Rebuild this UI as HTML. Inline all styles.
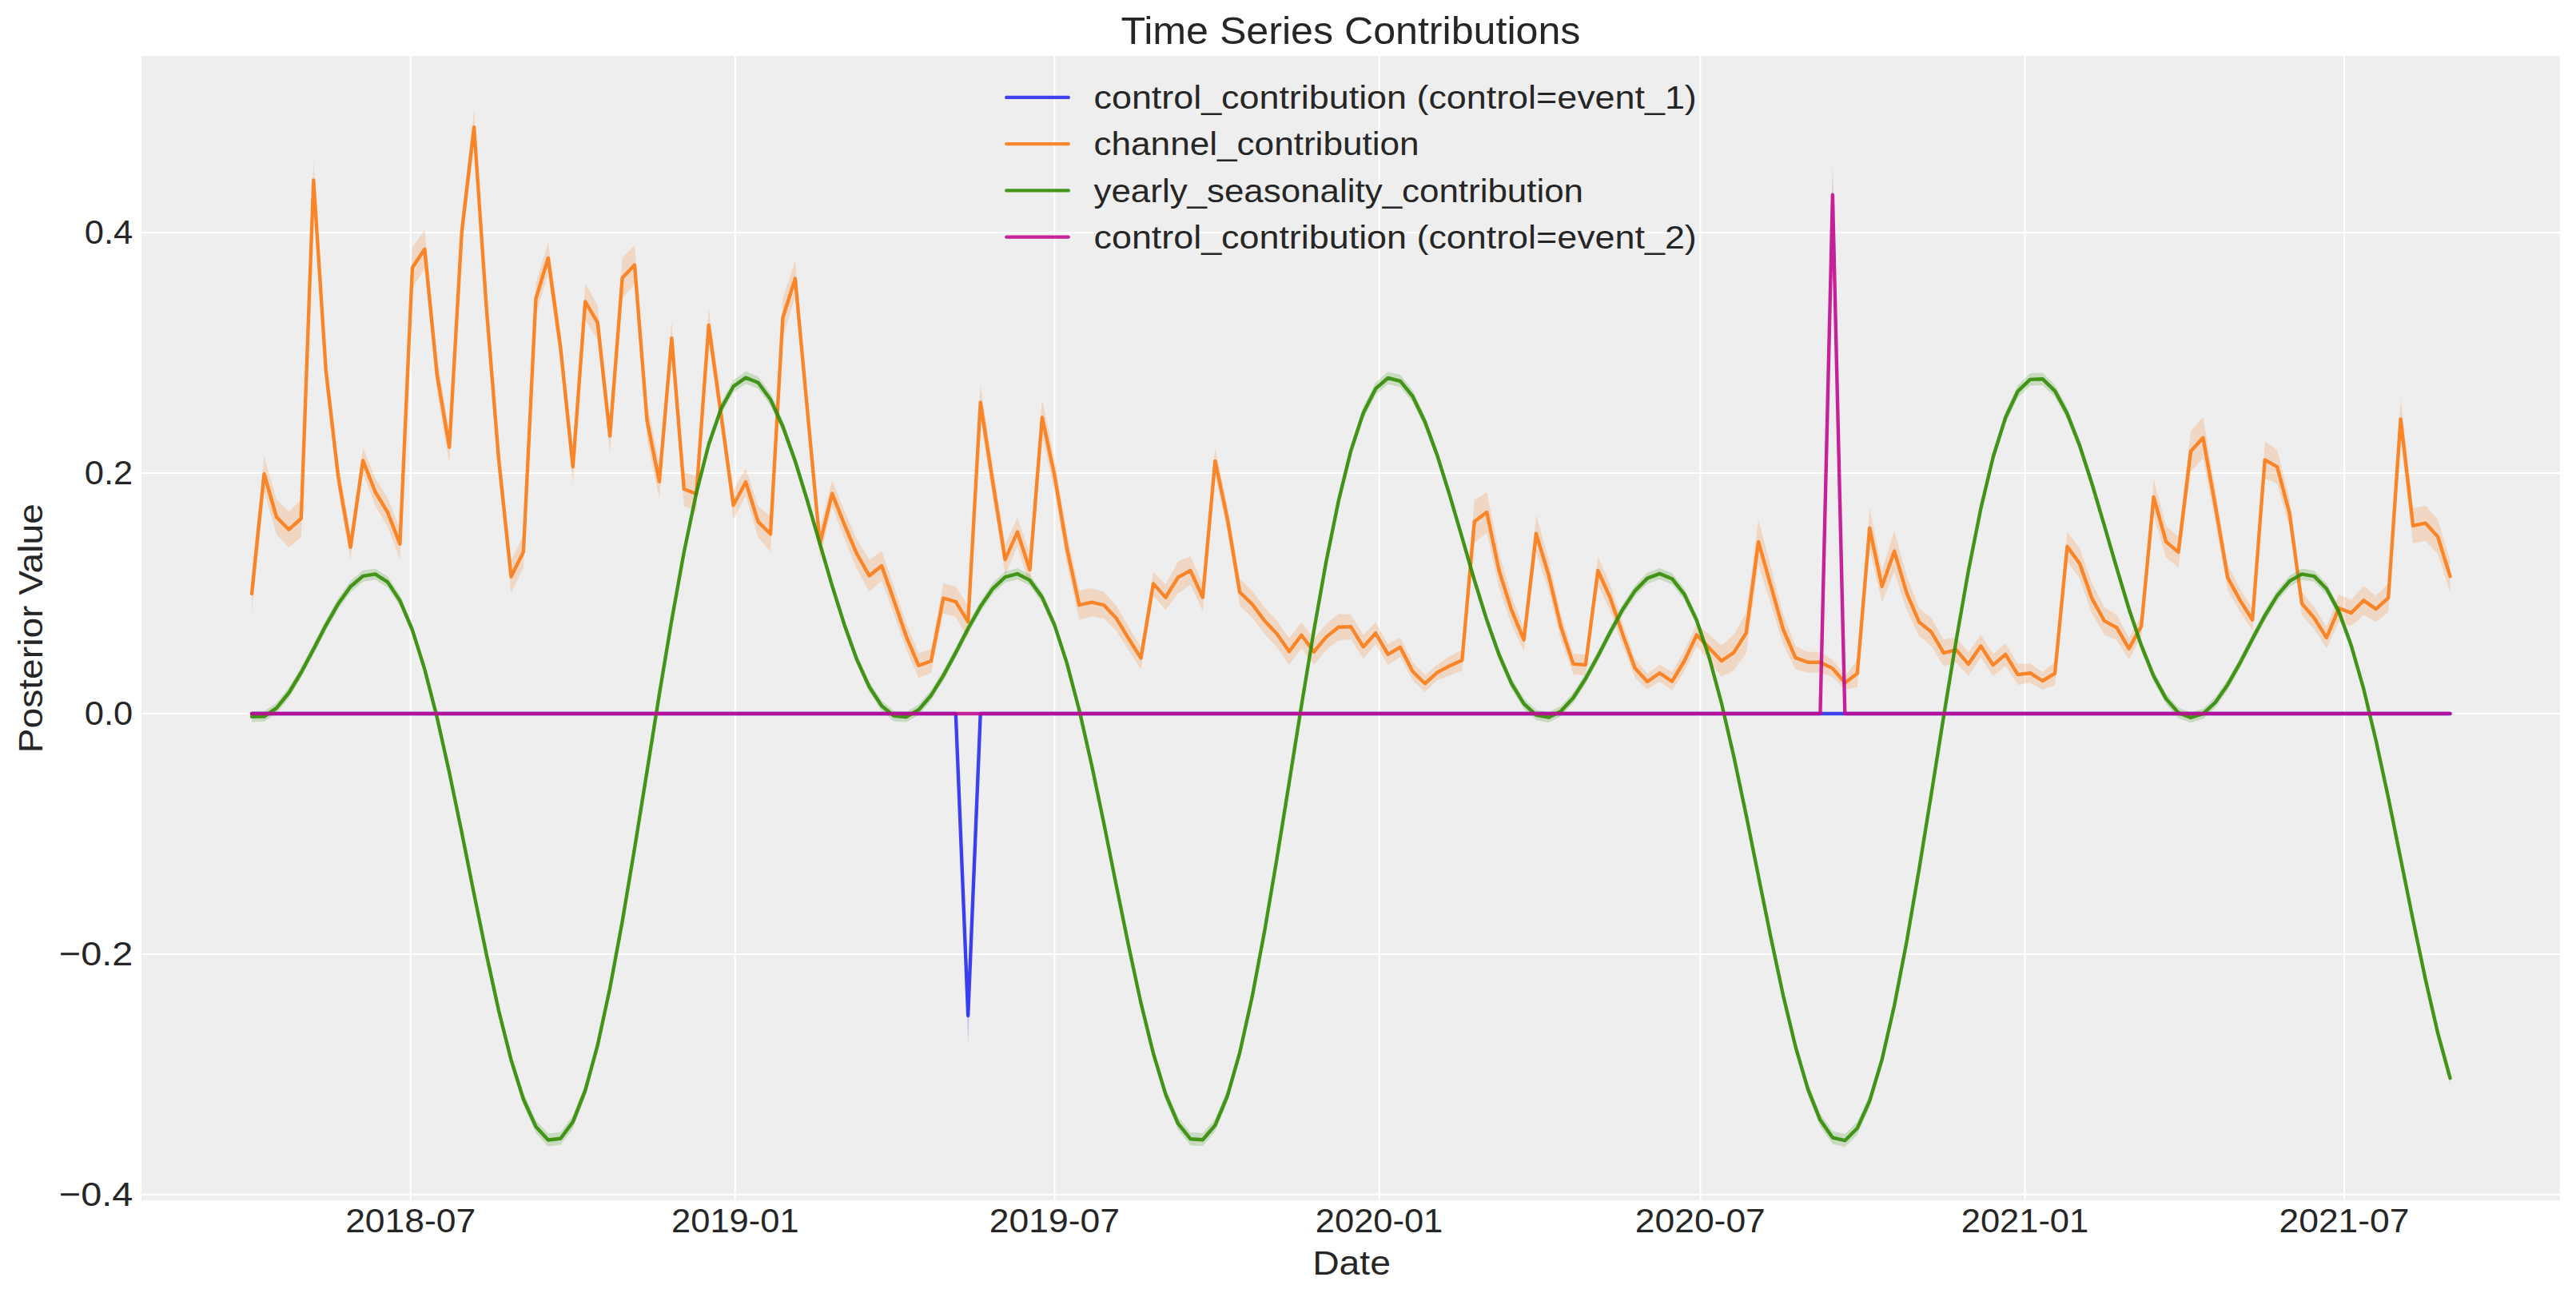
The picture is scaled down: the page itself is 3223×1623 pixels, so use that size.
<!DOCTYPE html>
<html><head><meta charset="utf-8"><title>Time Series Contributions</title>
<style>
html,body{margin:0;padding:0;background:#fff;}
svg{display:block;}
text{font-family:"Liberation Sans",sans-serif;fill:#262626;}
</style></head><body>
<svg width="3223" height="1623" viewBox="0 0 3223 1623">
<rect x="0" y="0" width="3223" height="1623" fill="#ffffff"/>
<defs><clipPath id="ax"><rect x="177.0" y="70.0" width="3026.0" height="1432.0"/></clipPath></defs>
<rect x="177.0" y="70.0" width="3026.0" height="1432.0" fill="#eeeeee"/>
<g stroke="#ffffff" stroke-width="2.1" fill="none">
<line x1="513.67" y1="70.0" x2="513.67" y2="1502.0"/>
<line x1="919.84" y1="70.0" x2="919.84" y2="1502.0"/>
<line x1="1319.38" y1="70.0" x2="1319.38" y2="1502.0"/>
<line x1="1725.55" y1="70.0" x2="1725.55" y2="1502.0"/>
<line x1="2127.30" y1="70.0" x2="2127.30" y2="1502.0"/>
<line x1="2533.47" y1="70.0" x2="2533.47" y2="1502.0"/>
<line x1="2933.01" y1="70.0" x2="2933.01" y2="1502.0"/>
<line x1="177.0" y1="291.10" x2="3203.0" y2="291.10"/>
<line x1="177.0" y1="592.05" x2="3203.0" y2="592.05"/>
<line x1="177.0" y1="893.00" x2="3203.0" y2="893.00"/>
<line x1="177.0" y1="1193.95" x2="3203.0" y2="1193.95"/>
<line x1="177.0" y1="1494.90" x2="3203.0" y2="1494.90"/>
</g>
<g clip-path="url(#ax)" stroke-linejoin="round" stroke-linecap="round">
<polygon points="315.0,893.0 330.5,893.0 345.9,893.0 361.4,893.0 376.8,893.0 392.3,893.0 407.7,893.0 423.2,893.0 438.6,893.0 454.1,893.0 469.5,893.0 485.0,893.0 500.4,893.0 515.9,893.0 531.3,893.0 546.8,893.0 562.2,893.0 577.7,893.0 593.1,893.0 608.6,893.0 624.0,893.0 639.5,893.0 654.9,893.0 670.4,893.0 685.8,893.0 701.3,893.0 716.8,893.0 732.2,893.0 747.7,893.0 763.1,893.0 778.6,893.0 794.0,893.0 809.5,893.0 824.9,893.0 840.4,893.0 855.8,893.0 871.3,893.0 886.7,893.0 902.2,893.0 917.6,893.0 933.1,893.0 948.5,893.0 964.0,893.0 979.4,893.0 994.9,893.0 1010.3,893.0 1025.8,893.0 1041.2,893.0 1056.7,893.0 1072.1,893.0 1087.6,893.0 1103.1,893.0 1118.5,893.0 1134.0,893.0 1149.4,893.0 1164.9,893.0 1180.3,893.0 1195.8,893.0 1211.2,1240.0 1226.7,893.0 1242.1,893.0 1257.6,893.0 1273.0,893.0 1288.5,893.0 1303.9,893.0 1319.4,893.0 1334.8,893.0 1350.3,893.0 1365.7,893.0 1381.2,893.0 1396.6,893.0 1412.1,893.0 1427.5,893.0 1443.0,893.0 1458.4,893.0 1473.9,893.0 1489.4,893.0 1504.8,893.0 1520.3,893.0 1535.7,893.0 1551.2,893.0 1566.6,893.0 1582.1,893.0 1597.5,893.0 1613.0,893.0 1628.4,893.0 1643.9,893.0 1659.3,893.0 1674.8,893.0 1690.2,893.0 1705.7,893.0 1721.1,893.0 1736.6,893.0 1752.0,893.0 1767.5,893.0 1782.9,893.0 1798.4,893.0 1813.8,893.0 1829.3,893.0 1844.7,893.0 1860.2,893.0 1875.7,893.0 1891.1,893.0 1906.6,893.0 1922.0,893.0 1937.5,893.0 1952.9,893.0 1968.4,893.0 1983.8,893.0 1999.3,893.0 2014.7,893.0 2030.2,893.0 2045.6,893.0 2061.1,893.0 2076.5,893.0 2092.0,893.0 2107.4,893.0 2122.9,893.0 2138.3,893.0 2153.8,893.0 2169.2,893.0 2184.7,893.0 2200.1,893.0 2215.6,893.0 2231.0,893.0 2246.5,893.0 2262.0,893.0 2277.4,893.0 2292.9,893.0 2308.3,893.0 2323.8,893.0 2339.2,893.0 2354.7,893.0 2370.1,893.0 2385.6,893.0 2401.0,893.0 2416.5,893.0 2431.9,893.0 2447.4,893.0 2462.8,893.0 2478.3,893.0 2493.7,893.0 2509.2,893.0 2524.6,893.0 2540.1,893.0 2555.5,893.0 2571.0,893.0 2586.4,893.0 2601.9,893.0 2617.3,893.0 2632.8,893.0 2648.3,893.0 2663.7,893.0 2679.2,893.0 2694.6,893.0 2710.1,893.0 2725.5,893.0 2741.0,893.0 2756.4,893.0 2771.9,893.0 2787.3,893.0 2802.8,893.0 2818.2,893.0 2833.7,893.0 2849.1,893.0 2864.6,893.0 2880.0,893.0 2895.5,893.0 2910.9,893.0 2926.4,893.0 2941.8,893.0 2957.3,893.0 2972.7,893.0 2988.2,893.0 3003.6,893.0 3019.1,893.0 3034.6,893.0 3050.0,893.0 3065.5,893.0 3065.5,893.0 3050.0,893.0 3034.6,893.0 3019.1,893.0 3003.6,893.0 2988.2,893.0 2972.7,893.0 2957.3,893.0 2941.8,893.0 2926.4,893.0 2910.9,893.0 2895.5,893.0 2880.0,893.0 2864.6,893.0 2849.1,893.0 2833.7,893.0 2818.2,893.0 2802.8,893.0 2787.3,893.0 2771.9,893.0 2756.4,893.0 2741.0,893.0 2725.5,893.0 2710.1,893.0 2694.6,893.0 2679.2,893.0 2663.7,893.0 2648.3,893.0 2632.8,893.0 2617.3,893.0 2601.9,893.0 2586.4,893.0 2571.0,893.0 2555.5,893.0 2540.1,893.0 2524.6,893.0 2509.2,893.0 2493.7,893.0 2478.3,893.0 2462.8,893.0 2447.4,893.0 2431.9,893.0 2416.5,893.0 2401.0,893.0 2385.6,893.0 2370.1,893.0 2354.7,893.0 2339.2,893.0 2323.8,893.0 2308.3,893.0 2292.9,893.0 2277.4,893.0 2262.0,893.0 2246.5,893.0 2231.0,893.0 2215.6,893.0 2200.1,893.0 2184.7,893.0 2169.2,893.0 2153.8,893.0 2138.3,893.0 2122.9,893.0 2107.4,893.0 2092.0,893.0 2076.5,893.0 2061.1,893.0 2045.6,893.0 2030.2,893.0 2014.7,893.0 1999.3,893.0 1983.8,893.0 1968.4,893.0 1952.9,893.0 1937.5,893.0 1922.0,893.0 1906.6,893.0 1891.1,893.0 1875.7,893.0 1860.2,893.0 1844.7,893.0 1829.3,893.0 1813.8,893.0 1798.4,893.0 1782.9,893.0 1767.5,893.0 1752.0,893.0 1736.6,893.0 1721.1,893.0 1705.7,893.0 1690.2,893.0 1674.8,893.0 1659.3,893.0 1643.9,893.0 1628.4,893.0 1613.0,893.0 1597.5,893.0 1582.1,893.0 1566.6,893.0 1551.2,893.0 1535.7,893.0 1520.3,893.0 1504.8,893.0 1489.4,893.0 1473.9,893.0 1458.4,893.0 1443.0,893.0 1427.5,893.0 1412.1,893.0 1396.6,893.0 1381.2,893.0 1365.7,893.0 1350.3,893.0 1334.8,893.0 1319.4,893.0 1303.9,893.0 1288.5,893.0 1273.0,893.0 1257.6,893.0 1242.1,893.0 1226.7,893.0 1211.2,1307.0 1195.8,893.0 1180.3,893.0 1164.9,893.0 1149.4,893.0 1134.0,893.0 1118.5,893.0 1103.1,893.0 1087.6,893.0 1072.1,893.0 1056.7,893.0 1041.2,893.0 1025.8,893.0 1010.3,893.0 994.9,893.0 979.4,893.0 964.0,893.0 948.5,893.0 933.1,893.0 917.6,893.0 902.2,893.0 886.7,893.0 871.3,893.0 855.8,893.0 840.4,893.0 824.9,893.0 809.5,893.0 794.0,893.0 778.6,893.0 763.1,893.0 747.7,893.0 732.2,893.0 716.8,893.0 701.3,893.0 685.8,893.0 670.4,893.0 654.9,893.0 639.5,893.0 624.0,893.0 608.6,893.0 593.1,893.0 577.7,893.0 562.2,893.0 546.8,893.0 531.3,893.0 515.9,893.0 500.4,893.0 485.0,893.0 469.5,893.0 454.1,893.0 438.6,893.0 423.2,893.0 407.7,893.0 392.3,893.0 376.8,893.0 361.4,893.0 345.9,893.0 330.5,893.0 315.0,893.0" fill="#2a2eec" fill-opacity="0.2" stroke="none"/>
<polyline points="315.0,893.0 330.5,893.0 345.9,893.0 361.4,893.0 376.8,893.0 392.3,893.0 407.7,893.0 423.2,893.0 438.6,893.0 454.1,893.0 469.5,893.0 485.0,893.0 500.4,893.0 515.9,893.0 531.3,893.0 546.8,893.0 562.2,893.0 577.7,893.0 593.1,893.0 608.6,893.0 624.0,893.0 639.5,893.0 654.9,893.0 670.4,893.0 685.8,893.0 701.3,893.0 716.8,893.0 732.2,893.0 747.7,893.0 763.1,893.0 778.6,893.0 794.0,893.0 809.5,893.0 824.9,893.0 840.4,893.0 855.8,893.0 871.3,893.0 886.7,893.0 902.2,893.0 917.6,893.0 933.1,893.0 948.5,893.0 964.0,893.0 979.4,893.0 994.9,893.0 1010.3,893.0 1025.8,893.0 1041.2,893.0 1056.7,893.0 1072.1,893.0 1087.6,893.0 1103.1,893.0 1118.5,893.0 1134.0,893.0 1149.4,893.0 1164.9,893.0 1180.3,893.0 1195.8,893.0 1211.2,1271.0 1226.7,893.0 1242.1,893.0 1257.6,893.0 1273.0,893.0 1288.5,893.0 1303.9,893.0 1319.4,893.0 1334.8,893.0 1350.3,893.0 1365.7,893.0 1381.2,893.0 1396.6,893.0 1412.1,893.0 1427.5,893.0 1443.0,893.0 1458.4,893.0 1473.9,893.0 1489.4,893.0 1504.8,893.0 1520.3,893.0 1535.7,893.0 1551.2,893.0 1566.6,893.0 1582.1,893.0 1597.5,893.0 1613.0,893.0 1628.4,893.0 1643.9,893.0 1659.3,893.0 1674.8,893.0 1690.2,893.0 1705.7,893.0 1721.1,893.0 1736.6,893.0 1752.0,893.0 1767.5,893.0 1782.9,893.0 1798.4,893.0 1813.8,893.0 1829.3,893.0 1844.7,893.0 1860.2,893.0 1875.7,893.0 1891.1,893.0 1906.6,893.0 1922.0,893.0 1937.5,893.0 1952.9,893.0 1968.4,893.0 1983.8,893.0 1999.3,893.0 2014.7,893.0 2030.2,893.0 2045.6,893.0 2061.1,893.0 2076.5,893.0 2092.0,893.0 2107.4,893.0 2122.9,893.0 2138.3,893.0 2153.8,893.0 2169.2,893.0 2184.7,893.0 2200.1,893.0 2215.6,893.0 2231.0,893.0 2246.5,893.0 2262.0,893.0 2277.4,893.0 2292.9,893.0 2308.3,893.0 2323.8,893.0 2339.2,893.0 2354.7,893.0 2370.1,893.0 2385.6,893.0 2401.0,893.0 2416.5,893.0 2431.9,893.0 2447.4,893.0 2462.8,893.0 2478.3,893.0 2493.7,893.0 2509.2,893.0 2524.6,893.0 2540.1,893.0 2555.5,893.0 2571.0,893.0 2586.4,893.0 2601.9,893.0 2617.3,893.0 2632.8,893.0 2648.3,893.0 2663.7,893.0 2679.2,893.0 2694.6,893.0 2710.1,893.0 2725.5,893.0 2741.0,893.0 2756.4,893.0 2771.9,893.0 2787.3,893.0 2802.8,893.0 2818.2,893.0 2833.7,893.0 2849.1,893.0 2864.6,893.0 2880.0,893.0 2895.5,893.0 2910.9,893.0 2926.4,893.0 2941.8,893.0 2957.3,893.0 2972.7,893.0 2988.2,893.0 3003.6,893.0 3019.1,893.0 3034.6,893.0 3050.0,893.0 3065.5,893.0" fill="none" stroke="#2a2eec" stroke-opacity="0.9" stroke-width="4.4"/>
<polygon points="315.0,718.9 330.5,571.2 345.9,624.8 361.4,640.1 376.8,625.2 392.3,201.0 407.7,441.2 423.2,578.0 438.6,668.6 454.1,560.2 469.5,598.3 485.0,622.9 500.4,661.4 515.9,309.4 531.3,287.2 546.8,446.6 562.2,539.8 577.7,269.8 593.1,137.3 608.6,363.4 624.0,553.9 639.5,700.8 654.9,670.2 670.4,354.2 685.8,303.5 701.3,414.7 716.8,563.0 732.2,354.8 747.7,381.9 763.1,524.6 778.6,322.0 794.0,307.5 809.5,502.8 824.9,580.6 840.4,402.5 855.8,590.6 871.3,596.0 886.7,386.2 902.2,499.5 917.6,614.0 933.1,586.1 948.5,633.4 964.0,646.3 979.4,373.0 994.9,326.2 1010.3,494.6 1025.8,662.0 1041.2,601.3 1056.7,639.5 1072.1,674.4 1087.6,700.5 1103.1,689.4 1118.5,733.8 1134.0,780.3 1149.4,817.3 1164.9,812.3 1180.3,729.5 1195.8,733.9 1211.2,757.7 1226.7,481.5 1242.1,582.3 1257.6,680.9 1273.0,647.7 1288.5,693.0 1303.9,500.2 1319.4,574.1 1334.8,666.0 1350.3,738.6 1365.7,736.0 1381.2,740.4 1396.6,757.7 1412.1,784.2 1427.5,809.6 1443.0,715.4 1458.4,731.5 1473.9,702.5 1489.4,696.0 1504.8,730.5 1520.3,560.0 1535.7,632.3 1551.2,724.3 1566.6,739.1 1582.1,760.0 1597.5,776.4 1613.0,798.6 1628.4,778.5 1643.9,799.3 1659.3,780.7 1674.8,768.3 1690.2,768.7 1705.7,794.6 1721.1,778.5 1736.6,805.7 1752.0,797.7 1767.5,828.8 1782.9,844.8 1798.4,831.4 1813.8,821.2 1829.3,813.2 1844.7,626.0 1860.2,615.4 1875.7,692.7 1891.1,745.4 1906.6,786.6 1922.0,644.6 1937.5,699.3 1952.9,767.9 1968.4,817.9 1983.8,819.0 1999.3,695.8 2014.7,732.1 2030.2,779.5 2045.6,824.0 2061.1,843.0 2076.5,831.8 2092.0,841.1 2107.4,814.3 2122.9,780.5 2138.3,794.0 2153.8,807.5 2169.2,794.2 2184.7,767.0 2200.1,650.0 2215.6,709.3 2231.0,768.5 2246.5,808.6 2262.0,815.7 2277.4,815.7 2292.9,825.6 2308.3,845.8 2323.8,825.4 2339.2,635.0 2354.7,714.1 2370.1,664.0 2385.6,720.5 2401.0,760.7 2416.5,773.5 2431.9,800.5 2447.4,797.4 2462.8,816.2 2478.3,794.5 2493.7,818.2 2509.2,804.9 2524.6,831.1 2540.1,830.2 2555.5,841.0 2571.0,827.9 2586.4,665.2 2601.9,686.0 2617.3,729.6 2632.8,759.4 2648.3,769.8 2663.7,798.0 2679.2,769.9 2694.6,599.7 2710.1,658.1 2725.5,671.5 2741.0,539.5 2756.4,522.0 2771.9,613.2 2787.3,707.2 2802.8,736.7 2818.2,762.1 2833.7,552.1 2849.1,562.8 2864.6,624.5 2880.0,740.8 2895.5,759.4 2910.9,784.4 2926.4,743.7 2941.8,750.5 2957.3,733.0 2972.7,745.6 2988.2,730.1 3003.6,498.7 3019.1,635.9 3034.6,632.8 3050.0,650.1 3065.5,700.9 3065.5,741.5 3050.0,692.9 3034.6,676.4 3019.1,679.9 3003.6,550.3 2988.2,766.1 2972.7,778.6 2957.3,769.8 2941.8,783.5 2926.4,778.5 2910.9,811.6 2895.5,787.4 2880.0,769.8 2864.6,660.3 2849.1,605.4 2833.7,598.7 2818.2,789.3 2802.8,766.1 2787.3,738.8 2771.9,654.8 2756.4,573.6 2741.0,589.9 2725.5,710.3 2710.1,697.7 2694.6,644.3 2679.2,797.1 2663.7,825.2 2648.3,801.0 2632.8,794.2 2617.3,768.0 2601.9,724.0 2586.4,702.6 2571.0,857.6 2555.5,863.0 2540.1,854.2 2524.6,857.1 2509.2,832.9 2493.7,846.2 2478.3,822.5 2462.8,846.0 2447.4,828.9 2431.9,833.7 2416.5,808.5 2401.0,795.7 2385.6,763.7 2370.1,715.4 2354.7,753.7 2339.2,687.0 2323.8,860.0 2308.3,863.0 2292.9,847.2 2277.4,841.7 2262.0,841.7 2246.5,837.6 2231.0,806.5 2215.6,756.3 2200.1,706.0 2184.7,817.4 2169.2,839.0 2153.8,846.7 2138.3,827.6 2122.9,808.5 2107.4,839.9 2092.0,864.3 2076.5,852.6 2061.1,863.0 2045.6,848.0 2030.2,807.7 2014.7,764.4 1999.3,732.2 1983.8,845.0 1968.4,843.9 1952.9,800.7 1937.5,738.9 1922.0,691.0 1906.6,814.6 1891.1,781.2 1875.7,736.1 1860.2,666.6 1844.7,679.4 1829.3,839.2 1813.8,845.2 1798.4,851.4 1782.9,865.8 1767.5,851.6 1752.0,822.1 1736.6,831.9 1721.1,806.3 1705.7,824.2 1690.2,799.9 1674.8,801.3 1659.3,813.5 1643.9,832.1 1628.4,811.1 1613.0,832.0 1597.5,809.8 1582.1,793.6 1566.6,772.7 1551.2,758.1 1535.7,666.1 1520.3,594.0 1504.8,764.5 1489.4,732.0 1473.9,742.5 1458.4,763.5 1443.0,745.4 1427.5,837.6 1412.1,814.0 1396.6,789.3 1381.2,774.0 1365.7,771.4 1350.3,775.8 1334.8,705.4 1319.4,615.9 1303.9,544.2 1288.5,733.0 1273.0,683.7 1257.6,719.5 1242.1,623.7 1226.7,525.5 1211.2,798.7 1195.8,771.9 1180.3,767.5 1164.9,842.3 1149.4,848.3 1134.0,813.3 1118.5,769.0 1103.1,726.6 1087.6,740.5 1072.1,712.0 1056.7,674.5 1041.2,633.9 1025.8,698.8 1010.3,535.4 994.9,371.1 979.4,422.0 964.0,690.3 948.5,672.4 933.1,620.1 917.6,650.6 902.2,538.5 886.7,427.8 871.3,640.0 855.8,633.4 840.4,444.1 824.9,624.6 809.5,548.8 794.0,355.5 778.6,373.6 763.1,566.6 747.7,425.5 732.2,400.0 716.8,605.0 701.3,455.1 685.8,342.3 670.4,393.8 654.9,710.8 639.5,742.2 624.0,596.1 608.6,406.6 593.1,181.3 577.7,311.6 562.2,579.4 546.8,490.8 531.3,336.2 515.9,360.6 500.4,700.0 485.0,659.3 469.5,632.7 454.1,592.4 438.6,700.6 423.2,615.6 407.7,484.6 392.3,250.0 376.8,672.3 361.4,685.3 345.9,669.0 330.5,614.6 315.0,766.5" fill="#fa7c17" fill-opacity="0.2" stroke="none"/>
<polyline points="315.0,742.7 330.5,592.9 345.9,646.9 361.4,662.7 376.8,648.8 392.3,225.5 407.7,462.9 423.2,596.8 438.6,684.6 454.1,576.3 469.5,615.5 485.0,641.1 500.4,680.7 515.9,335.0 531.3,311.7 546.8,468.7 562.2,559.6 577.7,290.7 593.1,159.3 608.6,385.0 624.0,575.0 639.5,721.5 654.9,690.5 670.4,374.0 685.8,322.9 701.3,434.9 716.8,584.0 732.2,377.4 747.7,403.7 763.1,545.6 778.6,347.8 794.0,331.5 809.5,525.8 824.9,602.6 840.4,423.3 855.8,612.0 871.3,618.0 886.7,407.0 902.2,519.0 917.6,632.3 933.1,603.1 948.5,652.9 964.0,668.3 979.4,397.5 994.9,348.6 1010.3,515.0 1025.8,680.4 1041.2,617.6 1056.7,657.0 1072.1,693.2 1087.6,720.5 1103.1,708.0 1118.5,751.4 1134.0,796.8 1149.4,832.8 1164.9,827.3 1180.3,748.5 1195.8,752.9 1211.2,778.2 1226.7,503.5 1242.1,603.0 1257.6,700.2 1273.0,665.7 1288.5,713.0 1303.9,522.2 1319.4,595.0 1334.8,685.7 1350.3,757.2 1365.7,753.7 1381.2,757.2 1396.6,773.5 1412.1,799.1 1427.5,823.6 1443.0,730.4 1458.4,747.5 1473.9,722.5 1489.4,714.0 1504.8,747.5 1520.3,577.0 1535.7,649.2 1551.2,741.2 1566.6,755.9 1582.1,776.8 1597.5,793.1 1613.0,815.3 1628.4,794.8 1643.9,815.7 1659.3,797.1 1674.8,784.8 1690.2,784.3 1705.7,809.4 1721.1,792.4 1736.6,818.8 1752.0,809.9 1767.5,840.2 1782.9,855.3 1798.4,841.4 1813.8,833.2 1829.3,826.2 1844.7,652.7 1860.2,641.0 1875.7,714.4 1891.1,763.3 1906.6,800.6 1922.0,667.8 1937.5,719.1 1952.9,784.3 1968.4,830.9 1983.8,832.0 1999.3,714.0 2014.7,748.2 2030.2,793.6 2045.6,836.0 2061.1,853.0 2076.5,842.2 2092.0,852.7 2107.4,827.1 2122.9,794.5 2138.3,810.8 2153.8,827.1 2169.2,816.6 2184.7,792.2 2200.1,678.0 2215.6,732.8 2231.0,787.5 2246.5,823.1 2262.0,828.7 2277.4,828.7 2292.9,836.4 2308.3,854.4 2323.8,842.7 2339.2,661.0 2354.7,733.9 2370.1,689.7 2385.6,742.1 2401.0,778.2 2416.5,791.0 2431.9,817.1 2447.4,813.1 2462.8,831.1 2478.3,808.5 2493.7,832.2 2509.2,818.9 2524.6,844.1 2540.1,842.2 2555.5,852.0 2571.0,842.7 2586.4,683.9 2601.9,705.0 2617.3,748.8 2632.8,776.8 2648.3,785.4 2663.7,811.6 2679.2,783.5 2694.6,622.0 2710.1,677.9 2725.5,690.9 2741.0,564.7 2756.4,547.8 2771.9,634.0 2787.3,723.0 2802.8,751.4 2818.2,775.7 2833.7,575.4 2849.1,584.1 2864.6,642.4 2880.0,755.3 2895.5,773.4 2910.9,798.0 2926.4,761.1 2941.8,767.0 2957.3,751.4 2972.7,762.1 2988.2,748.1 3003.6,524.5 3019.1,657.9 3034.6,654.6 3050.0,671.5 3065.5,721.2" fill="none" stroke="#fa7c17" stroke-opacity="0.9" stroke-width="4.4"/>
<polygon points="315.0,890.2 330.5,890.0 345.9,879.6 361.4,860.4 376.8,834.8 392.3,805.6 407.7,775.8 423.2,748.6 438.6,727.0 454.1,713.8 469.5,711.4 485.0,721.4 500.4,744.6 515.9,781.4 531.3,830.7 546.8,891.2 562.2,960.0 577.7,1034.5 593.1,1111.4 608.6,1186.9 624.0,1257.1 639.5,1318.5 654.9,1367.6 670.4,1401.6 685.8,1418.4 701.3,1416.7 716.8,1395.9 732.2,1356.6 747.7,1300.3 763.1,1229.1 778.6,1146.0 794.0,1054.5 809.5,958.6 824.9,862.3 840.4,769.2 855.8,683.8 871.3,609.4 886.7,548.7 902.2,503.8 917.6,475.8 933.1,464.8 948.5,471.0 964.0,492.1 979.4,525.9 994.9,569.5 1010.3,619.8 1025.8,673.1 1041.2,726.2 1056.7,775.7 1072.1,818.7 1087.6,852.9 1103.1,876.8 1118.5,889.4 1134.0,890.7 1149.4,881.6 1164.9,863.6 1180.3,838.8 1195.8,809.9 1211.2,780.0 1226.7,752.2 1242.1,729.6 1257.6,715.1 1273.0,711.0 1288.5,719.1 1303.9,740.5 1319.4,775.3 1334.8,823.0 1350.3,882.0 1365.7,949.7 1381.2,1023.7 1396.6,1100.4 1412.1,1176.3 1427.5,1247.6 1443.0,1310.4 1458.4,1361.4 1473.9,1397.8 1489.4,1417.1 1504.8,1418.1 1520.3,1400.0 1535.7,1363.3 1551.2,1309.3 1566.6,1240.0 1582.1,1158.4 1597.5,1067.9 1613.0,972.4 1628.4,875.9 1643.9,782.1 1659.3,695.4 1674.8,619.2 1690.2,556.5 1705.7,509.2 1721.1,478.7 1736.6,465.2 1752.0,469.1 1767.5,488.2 1782.9,520.4 1798.4,562.8 1813.8,612.3 1829.3,665.4 1844.7,718.8 1860.2,768.9 1875.7,813.0 1891.1,848.6 1906.6,874.0 1922.0,888.3 1937.5,891.2 1952.9,883.5 1968.4,866.6 1983.8,842.6 1999.3,814.2 2014.7,784.2 2030.2,755.9 2045.6,732.4 2061.1,716.6 2076.5,710.9 2092.0,717.2 2107.4,736.6 2122.9,769.5 2138.3,815.4 2153.8,872.9 2169.2,939.6 2184.7,1012.8 2200.1,1089.4 2215.6,1165.7 2231.0,1237.8 2246.5,1302.1 2262.0,1355.0 2277.4,1393.6 2292.9,1415.5 2308.3,1419.1 2323.8,1403.8 2339.2,1369.7 2354.7,1318.0 2370.1,1250.8 2385.6,1170.7 2401.0,1081.3 2416.5,986.2 2431.9,889.7 2447.4,795.2 2462.8,707.2 2478.3,629.4 2493.7,564.5 2509.2,514.9 2524.6,482.0 2540.1,467.1 2555.5,466.4 2571.0,481.4 2586.4,510.0 2601.9,549.8 2617.3,597.6 2632.8,650.1 2648.3,703.7 2663.7,755.1 2679.2,801.2 2694.6,839.4 2710.1,867.9 2725.5,885.4 2741.0,891.5 2756.4,886.7 2771.9,872.3 2787.3,850.1 2802.8,822.6 2818.2,792.7 2833.7,763.6 2849.1,738.5 2864.6,720.2 2880.0,711.4 2895.5,714.1 2910.9,729.7 2926.4,758.8 2941.8,801.0 2957.3,855.4 2972.7,919.8 2988.2,991.4 3003.6,1067.4 3019.1,1144.2 3034.6,1217.9 3050.0,1284.7 3065.5,1341.2 3065.5,1357.0 3050.0,1300.1 3034.6,1232.8 3019.1,1158.7 3003.6,1081.5 2988.2,1005.1 2972.7,933.0 2957.3,868.6 2941.8,814.6 2926.4,772.5 2910.9,743.6 2895.5,728.1 2880.0,725.4 2864.6,734.2 2849.1,752.4 2833.7,777.4 2818.2,806.3 2802.8,836.0 2787.3,863.3 2771.9,885.4 2756.4,899.7 2741.0,904.5 2725.5,898.4 2710.1,881.0 2694.6,852.7 2679.2,814.7 2663.7,768.9 2648.3,717.8 2632.8,664.5 2617.3,612.4 2601.9,564.8 2586.4,525.3 2571.0,496.8 2555.5,481.9 2540.1,482.7 2524.6,497.4 2509.2,530.2 2493.7,579.4 2478.3,643.9 2462.8,721.3 2447.4,808.7 2431.9,902.7 2416.5,999.8 2401.0,1095.4 2385.6,1185.4 2370.1,1266.0 2354.7,1333.6 2339.2,1385.6 2323.8,1419.9 2308.3,1435.3 2292.9,1431.6 2277.4,1409.6 2262.0,1370.8 2246.5,1317.6 2231.0,1252.9 2215.6,1180.4 2200.1,1103.6 2184.7,1026.6 2169.2,952.9 2153.8,886.0 2138.3,828.8 2122.9,783.2 2107.4,750.5 2092.0,731.2 2076.5,724.9 2061.1,730.6 2045.6,746.3 2030.2,769.7 2014.7,797.8 1999.3,827.6 1983.8,855.9 1968.4,879.8 1952.9,896.6 1937.5,904.2 1922.0,901.3 1906.6,887.1 1891.1,861.9 1875.7,826.4 1860.2,782.6 1844.7,732.8 1829.3,679.8 1813.8,626.9 1798.4,577.7 1782.9,535.6 1767.5,503.6 1752.0,484.6 1736.6,480.8 1721.1,494.2 1705.7,524.5 1690.2,571.4 1674.8,633.8 1659.3,709.6 1643.9,795.8 1628.4,889.0 1613.0,985.9 1597.5,1082.0 1582.1,1173.1 1566.6,1255.2 1551.2,1324.9 1535.7,1379.2 1520.3,1416.1 1504.8,1434.3 1489.4,1433.3 1473.9,1413.8 1458.4,1377.3 1443.0,1326.0 1427.5,1262.7 1412.1,1191.1 1396.6,1114.7 1381.2,1037.5 1365.7,963.1 1350.3,895.0 1334.8,836.3 1319.4,789.0 1303.9,754.4 1288.5,733.1 1273.0,725.1 1257.6,729.1 1242.1,743.6 1226.7,766.0 1211.2,793.6 1195.8,823.4 1180.3,852.1 1164.9,876.7 1149.4,894.7 1134.0,903.8 1118.5,902.4 1103.1,889.8 1087.6,866.1 1072.1,832.1 1056.7,789.3 1041.2,740.1 1025.8,687.4 1010.3,634.4 994.9,584.4 979.4,541.0 964.0,507.5 948.5,486.5 933.1,480.3 917.6,491.2 902.2,519.1 886.7,563.7 871.3,624.0 855.8,698.0 840.4,782.9 824.9,875.4 809.5,972.0 794.0,1068.5 778.6,1160.5 763.1,1244.1 747.7,1315.8 732.2,1372.5 716.8,1412.0 701.3,1432.8 685.8,1434.6 670.4,1417.7 654.9,1383.5 639.5,1334.1 624.0,1272.4 608.6,1201.7 593.1,1125.8 577.7,1048.4 562.2,973.4 546.8,904.2 531.3,844.1 515.9,795.0 500.4,758.5 485.0,735.3 469.5,725.4 454.1,727.9 438.6,740.9 423.2,762.4 407.7,789.5 392.3,819.1 376.8,848.1 361.4,873.6 345.9,892.6 330.5,903.1 315.0,903.3" fill="#328c06" fill-opacity="0.2" stroke="none"/>
<polyline points="315.0,896.8 330.5,896.6 345.9,886.1 361.4,867.0 376.8,841.5 392.3,812.4 407.7,782.6 423.2,755.5 438.6,734.0 454.1,720.8 469.5,718.4 485.0,728.4 500.4,751.6 515.9,788.2 531.3,837.4 546.8,897.7 562.2,966.7 577.7,1041.5 593.1,1118.6 608.6,1194.3 624.0,1264.8 639.5,1326.3 654.9,1375.5 670.4,1409.7 685.8,1426.5 701.3,1424.7 716.8,1403.9 732.2,1364.6 747.7,1308.0 763.1,1236.6 778.6,1153.2 794.0,1061.5 809.5,965.3 824.9,868.8 840.4,776.1 855.8,690.9 871.3,616.7 886.7,556.2 902.2,511.4 917.6,483.5 933.1,472.6 948.5,478.7 964.0,499.8 979.4,533.5 994.9,577.0 1010.3,627.1 1025.8,680.3 1041.2,733.2 1056.7,782.5 1072.1,825.4 1087.6,859.5 1103.1,883.3 1118.5,895.9 1134.0,897.2 1149.4,888.2 1164.9,870.2 1180.3,845.4 1195.8,816.6 1211.2,786.8 1226.7,759.1 1242.1,736.6 1257.6,722.1 1273.0,718.0 1288.5,726.1 1303.9,747.4 1319.4,782.1 1334.8,829.6 1350.3,888.5 1365.7,956.4 1381.2,1030.6 1396.6,1107.6 1412.1,1183.7 1427.5,1255.1 1443.0,1318.2 1458.4,1369.4 1473.9,1405.8 1489.4,1425.2 1504.8,1426.2 1520.3,1408.1 1535.7,1371.3 1551.2,1317.1 1566.6,1247.6 1582.1,1165.7 1597.5,1075.0 1613.0,979.2 1628.4,882.5 1643.9,789.0 1659.3,702.5 1674.8,626.5 1690.2,563.9 1705.7,516.8 1721.1,486.4 1736.6,473.0 1752.0,476.9 1767.5,495.9 1782.9,528.0 1798.4,570.3 1813.8,619.6 1829.3,672.6 1844.7,725.8 1860.2,775.8 1875.7,819.7 1891.1,855.2 1906.6,880.6 1922.0,894.8 1937.5,897.7 1952.9,890.0 1968.4,873.2 1983.8,849.3 1999.3,820.9 2014.7,791.0 2030.2,762.8 2045.6,739.4 2061.1,723.6 2076.5,717.9 2092.0,724.2 2107.4,743.6 2122.9,776.4 2138.3,822.1 2153.8,879.5 2169.2,946.3 2184.7,1019.7 2200.1,1096.5 2215.6,1173.0 2231.0,1245.4 2246.5,1309.8 2262.0,1362.9 2277.4,1401.6 2292.9,1423.6 2308.3,1427.2 2323.8,1411.8 2339.2,1377.6 2354.7,1325.8 2370.1,1258.4 2385.6,1178.1 2401.0,1088.3 2416.5,993.0 2431.9,896.2 2447.4,802.0 2462.8,714.3 2478.3,636.6 2493.7,572.0 2509.2,522.5 2524.6,489.7 2540.1,474.9 2555.5,474.2 2571.0,489.1 2586.4,517.6 2601.9,557.3 2617.3,605.0 2632.8,657.3 2648.3,710.7 2663.7,762.0 2679.2,807.9 2694.6,846.1 2710.1,874.4 2725.5,891.9 2741.0,898.0 2756.4,893.2 2771.9,878.8 2787.3,856.7 2802.8,829.3 2818.2,799.5 2833.7,770.5 2849.1,745.4 2864.6,727.2 2880.0,718.4 2895.5,721.1 2910.9,736.7 2926.4,765.6 2941.8,807.8 2957.3,862.0 2972.7,926.4 2988.2,998.2 3003.6,1074.5 3019.1,1151.4 3034.6,1225.3 3050.0,1292.4 3065.5,1349.1" fill="none" stroke="#328c06" stroke-opacity="0.9" stroke-width="4.4"/>
<polygon points="315.0,893.0 330.5,893.0 345.9,893.0 361.4,893.0 376.8,893.0 392.3,893.0 407.7,893.0 423.2,893.0 438.6,893.0 454.1,893.0 469.5,893.0 485.0,893.0 500.4,893.0 515.9,893.0 531.3,893.0 546.8,893.0 562.2,893.0 577.7,893.0 593.1,893.0 608.6,893.0 624.0,893.0 639.5,893.0 654.9,893.0 670.4,893.0 685.8,893.0 701.3,893.0 716.8,893.0 732.2,893.0 747.7,893.0 763.1,893.0 778.6,893.0 794.0,893.0 809.5,893.0 824.9,893.0 840.4,893.0 855.8,893.0 871.3,893.0 886.7,893.0 902.2,893.0 917.6,893.0 933.1,893.0 948.5,893.0 964.0,893.0 979.4,893.0 994.9,893.0 1010.3,893.0 1025.8,893.0 1041.2,893.0 1056.7,893.0 1072.1,893.0 1087.6,893.0 1103.1,893.0 1118.5,893.0 1134.0,893.0 1149.4,893.0 1164.9,893.0 1180.3,893.0 1195.8,893.0 1211.2,893.0 1226.7,893.0 1242.1,893.0 1257.6,893.0 1273.0,893.0 1288.5,893.0 1303.9,893.0 1319.4,893.0 1334.8,893.0 1350.3,893.0 1365.7,893.0 1381.2,893.0 1396.6,893.0 1412.1,893.0 1427.5,893.0 1443.0,893.0 1458.4,893.0 1473.9,893.0 1489.4,893.0 1504.8,893.0 1520.3,893.0 1535.7,893.0 1551.2,893.0 1566.6,893.0 1582.1,893.0 1597.5,893.0 1613.0,893.0 1628.4,893.0 1643.9,893.0 1659.3,893.0 1674.8,893.0 1690.2,893.0 1705.7,893.0 1721.1,893.0 1736.6,893.0 1752.0,893.0 1767.5,893.0 1782.9,893.0 1798.4,893.0 1813.8,893.0 1829.3,893.0 1844.7,893.0 1860.2,893.0 1875.7,893.0 1891.1,893.0 1906.6,893.0 1922.0,893.0 1937.5,893.0 1952.9,893.0 1968.4,893.0 1983.8,893.0 1999.3,893.0 2014.7,893.0 2030.2,893.0 2045.6,893.0 2061.1,893.0 2076.5,893.0 2092.0,893.0 2107.4,893.0 2122.9,893.0 2138.3,893.0 2153.8,893.0 2169.2,893.0 2184.7,893.0 2200.1,893.0 2215.6,893.0 2231.0,893.0 2246.5,893.0 2262.0,893.0 2277.4,893.0 2292.9,206.5 2308.3,893.0 2323.8,893.0 2339.2,893.0 2354.7,893.0 2370.1,893.0 2385.6,893.0 2401.0,893.0 2416.5,893.0 2431.9,893.0 2447.4,893.0 2462.8,893.0 2478.3,893.0 2493.7,893.0 2509.2,893.0 2524.6,893.0 2540.1,893.0 2555.5,893.0 2571.0,893.0 2586.4,893.0 2601.9,893.0 2617.3,893.0 2632.8,893.0 2648.3,893.0 2663.7,893.0 2679.2,893.0 2694.6,893.0 2710.1,893.0 2725.5,893.0 2741.0,893.0 2756.4,893.0 2771.9,893.0 2787.3,893.0 2802.8,893.0 2818.2,893.0 2833.7,893.0 2849.1,893.0 2864.6,893.0 2880.0,893.0 2895.5,893.0 2910.9,893.0 2926.4,893.0 2941.8,893.0 2957.3,893.0 2972.7,893.0 2988.2,893.0 3003.6,893.0 3019.1,893.0 3034.6,893.0 3050.0,893.0 3065.5,893.0 3065.5,893.0 3050.0,893.0 3034.6,893.0 3019.1,893.0 3003.6,893.0 2988.2,893.0 2972.7,893.0 2957.3,893.0 2941.8,893.0 2926.4,893.0 2910.9,893.0 2895.5,893.0 2880.0,893.0 2864.6,893.0 2849.1,893.0 2833.7,893.0 2818.2,893.0 2802.8,893.0 2787.3,893.0 2771.9,893.0 2756.4,893.0 2741.0,893.0 2725.5,893.0 2710.1,893.0 2694.6,893.0 2679.2,893.0 2663.7,893.0 2648.3,893.0 2632.8,893.0 2617.3,893.0 2601.9,893.0 2586.4,893.0 2571.0,893.0 2555.5,893.0 2540.1,893.0 2524.6,893.0 2509.2,893.0 2493.7,893.0 2478.3,893.0 2462.8,893.0 2447.4,893.0 2431.9,893.0 2416.5,893.0 2401.0,893.0 2385.6,893.0 2370.1,893.0 2354.7,893.0 2339.2,893.0 2323.8,893.0 2308.3,893.0 2292.9,280.0 2277.4,893.0 2262.0,893.0 2246.5,893.0 2231.0,893.0 2215.6,893.0 2200.1,893.0 2184.7,893.0 2169.2,893.0 2153.8,893.0 2138.3,893.0 2122.9,893.0 2107.4,893.0 2092.0,893.0 2076.5,893.0 2061.1,893.0 2045.6,893.0 2030.2,893.0 2014.7,893.0 1999.3,893.0 1983.8,893.0 1968.4,893.0 1952.9,893.0 1937.5,893.0 1922.0,893.0 1906.6,893.0 1891.1,893.0 1875.7,893.0 1860.2,893.0 1844.7,893.0 1829.3,893.0 1813.8,893.0 1798.4,893.0 1782.9,893.0 1767.5,893.0 1752.0,893.0 1736.6,893.0 1721.1,893.0 1705.7,893.0 1690.2,893.0 1674.8,893.0 1659.3,893.0 1643.9,893.0 1628.4,893.0 1613.0,893.0 1597.5,893.0 1582.1,893.0 1566.6,893.0 1551.2,893.0 1535.7,893.0 1520.3,893.0 1504.8,893.0 1489.4,893.0 1473.9,893.0 1458.4,893.0 1443.0,893.0 1427.5,893.0 1412.1,893.0 1396.6,893.0 1381.2,893.0 1365.7,893.0 1350.3,893.0 1334.8,893.0 1319.4,893.0 1303.9,893.0 1288.5,893.0 1273.0,893.0 1257.6,893.0 1242.1,893.0 1226.7,893.0 1211.2,893.0 1195.8,893.0 1180.3,893.0 1164.9,893.0 1149.4,893.0 1134.0,893.0 1118.5,893.0 1103.1,893.0 1087.6,893.0 1072.1,893.0 1056.7,893.0 1041.2,893.0 1025.8,893.0 1010.3,893.0 994.9,893.0 979.4,893.0 964.0,893.0 948.5,893.0 933.1,893.0 917.6,893.0 902.2,893.0 886.7,893.0 871.3,893.0 855.8,893.0 840.4,893.0 824.9,893.0 809.5,893.0 794.0,893.0 778.6,893.0 763.1,893.0 747.7,893.0 732.2,893.0 716.8,893.0 701.3,893.0 685.8,893.0 670.4,893.0 654.9,893.0 639.5,893.0 624.0,893.0 608.6,893.0 593.1,893.0 577.7,893.0 562.2,893.0 546.8,893.0 531.3,893.0 515.9,893.0 500.4,893.0 485.0,893.0 469.5,893.0 454.1,893.0 438.6,893.0 423.2,893.0 407.7,893.0 392.3,893.0 376.8,893.0 361.4,893.0 345.9,893.0 330.5,893.0 315.0,893.0" fill="#c10c90" fill-opacity="0.2" stroke="none"/>
<polyline points="315.0,893.0 330.5,893.0 345.9,893.0 361.4,893.0 376.8,893.0 392.3,893.0 407.7,893.0 423.2,893.0 438.6,893.0 454.1,893.0 469.5,893.0 485.0,893.0 500.4,893.0 515.9,893.0 531.3,893.0 546.8,893.0 562.2,893.0 577.7,893.0 593.1,893.0 608.6,893.0 624.0,893.0 639.5,893.0 654.9,893.0 670.4,893.0 685.8,893.0 701.3,893.0 716.8,893.0 732.2,893.0 747.7,893.0 763.1,893.0 778.6,893.0 794.0,893.0 809.5,893.0 824.9,893.0 840.4,893.0 855.8,893.0 871.3,893.0 886.7,893.0 902.2,893.0 917.6,893.0 933.1,893.0 948.5,893.0 964.0,893.0 979.4,893.0 994.9,893.0 1010.3,893.0 1025.8,893.0 1041.2,893.0 1056.7,893.0 1072.1,893.0 1087.6,893.0 1103.1,893.0 1118.5,893.0 1134.0,893.0 1149.4,893.0 1164.9,893.0 1180.3,893.0 1195.8,893.0 1211.2,893.0 1226.7,893.0 1242.1,893.0 1257.6,893.0 1273.0,893.0 1288.5,893.0 1303.9,893.0 1319.4,893.0 1334.8,893.0 1350.3,893.0 1365.7,893.0 1381.2,893.0 1396.6,893.0 1412.1,893.0 1427.5,893.0 1443.0,893.0 1458.4,893.0 1473.9,893.0 1489.4,893.0 1504.8,893.0 1520.3,893.0 1535.7,893.0 1551.2,893.0 1566.6,893.0 1582.1,893.0 1597.5,893.0 1613.0,893.0 1628.4,893.0 1643.9,893.0 1659.3,893.0 1674.8,893.0 1690.2,893.0 1705.7,893.0 1721.1,893.0 1736.6,893.0 1752.0,893.0 1767.5,893.0 1782.9,893.0 1798.4,893.0 1813.8,893.0 1829.3,893.0 1844.7,893.0 1860.2,893.0 1875.7,893.0 1891.1,893.0 1906.6,893.0 1922.0,893.0 1937.5,893.0 1952.9,893.0 1968.4,893.0 1983.8,893.0 1999.3,893.0 2014.7,893.0 2030.2,893.0 2045.6,893.0 2061.1,893.0 2076.5,893.0 2092.0,893.0 2107.4,893.0 2122.9,893.0 2138.3,893.0 2153.8,893.0 2169.2,893.0 2184.7,893.0 2200.1,893.0 2215.6,893.0 2231.0,893.0 2246.5,893.0 2262.0,893.0 2277.4,893.0 2292.9,243.7 2308.3,893.0 2323.8,893.0 2339.2,893.0 2354.7,893.0 2370.1,893.0 2385.6,893.0 2401.0,893.0 2416.5,893.0 2431.9,893.0 2447.4,893.0 2462.8,893.0 2478.3,893.0 2493.7,893.0 2509.2,893.0 2524.6,893.0 2540.1,893.0 2555.5,893.0 2571.0,893.0 2586.4,893.0 2601.9,893.0 2617.3,893.0 2632.8,893.0 2648.3,893.0 2663.7,893.0 2679.2,893.0 2694.6,893.0 2710.1,893.0 2725.5,893.0 2741.0,893.0 2756.4,893.0 2771.9,893.0 2787.3,893.0 2802.8,893.0 2818.2,893.0 2833.7,893.0 2849.1,893.0 2864.6,893.0 2880.0,893.0 2895.5,893.0 2910.9,893.0 2926.4,893.0 2941.8,893.0 2957.3,893.0 2972.7,893.0 2988.2,893.0 3003.6,893.0 3019.1,893.0 3034.6,893.0 3050.0,893.0 3065.5,893.0" fill="none" stroke="#c10c90" stroke-opacity="0.9" stroke-width="4.4"/>
</g>
<text x="166.30" y="305.09" font-size="42.4" text-anchor="end" textLength="60.5" lengthAdjust="spacingAndGlyphs">0.4</text>
<text x="166.30" y="606.04" font-size="42.4" text-anchor="end" textLength="60.5" lengthAdjust="spacingAndGlyphs">0.2</text>
<text x="166.30" y="906.99" font-size="42.4" text-anchor="end" textLength="60.5" lengthAdjust="spacingAndGlyphs">0.0</text>
<text x="166.30" y="1207.94" font-size="42.4" text-anchor="end" textLength="92.5" lengthAdjust="spacingAndGlyphs">−0.2</text>
<text x="166.30" y="1508.89" font-size="42.4" text-anchor="end" textLength="92.5" lengthAdjust="spacingAndGlyphs">−0.4</text>
<text x="513.67" y="1541.80" font-size="42.4" text-anchor="middle" textLength="163.0" lengthAdjust="spacingAndGlyphs">2018-07</text>
<text x="919.84" y="1541.80" font-size="42.4" text-anchor="middle" textLength="159.5" lengthAdjust="spacingAndGlyphs">2019-01</text>
<text x="1319.38" y="1541.80" font-size="42.4" text-anchor="middle" textLength="163.0" lengthAdjust="spacingAndGlyphs">2019-07</text>
<text x="1725.55" y="1541.80" font-size="42.4" text-anchor="middle" textLength="159.5" lengthAdjust="spacingAndGlyphs">2020-01</text>
<text x="2127.30" y="1541.80" font-size="42.4" text-anchor="middle" textLength="163.0" lengthAdjust="spacingAndGlyphs">2020-07</text>
<text x="2533.47" y="1541.80" font-size="42.4" text-anchor="middle" textLength="159.5" lengthAdjust="spacingAndGlyphs">2021-01</text>
<text x="2933.01" y="1541.80" font-size="42.4" text-anchor="middle" textLength="163.0" lengthAdjust="spacingAndGlyphs">2021-07</text>
<text x="1691.10" y="1595.00" font-size="42.4" text-anchor="middle" textLength="97.8" lengthAdjust="spacingAndGlyphs">Date</text>
<text transform="translate(52.8,786.2) rotate(-90)" x="0" y="0" font-size="42.4" text-anchor="middle" textLength="312" lengthAdjust="spacingAndGlyphs">Posterior Value</text>
<text x="1689.90" y="54.90" font-size="48" text-anchor="middle" textLength="575.0" lengthAdjust="spacingAndGlyphs">Time Series Contributions</text>
<line x1="1259.3" y1="121.9" x2="1336.7" y2="121.9" stroke="#2a2eec" stroke-opacity="0.9" stroke-width="4.4" stroke-linecap="round"/>
<text x="1368.50" y="136.10" font-size="40.5" textLength="754.3" lengthAdjust="spacingAndGlyphs">control_contribution (control=event_1)</text>
<line x1="1259.3" y1="180.1" x2="1336.7" y2="180.1" stroke="#fa7c17" stroke-opacity="0.9" stroke-width="4.4" stroke-linecap="round"/>
<text x="1368.50" y="194.33" font-size="40.5" textLength="407.1" lengthAdjust="spacingAndGlyphs">channel_contribution</text>
<line x1="1259.3" y1="238.4" x2="1336.7" y2="238.4" stroke="#328c06" stroke-opacity="0.9" stroke-width="4.4" stroke-linecap="round"/>
<text x="1368.50" y="252.56" font-size="40.5" textLength="612.5" lengthAdjust="spacingAndGlyphs">yearly_seasonality_contribution</text>
<line x1="1259.3" y1="296.6" x2="1336.7" y2="296.6" stroke="#c10c90" stroke-opacity="0.9" stroke-width="4.4" stroke-linecap="round"/>
<text x="1368.50" y="310.79" font-size="40.5" textLength="754.3" lengthAdjust="spacingAndGlyphs">control_contribution (control=event_2)</text>
</svg></body></html>
